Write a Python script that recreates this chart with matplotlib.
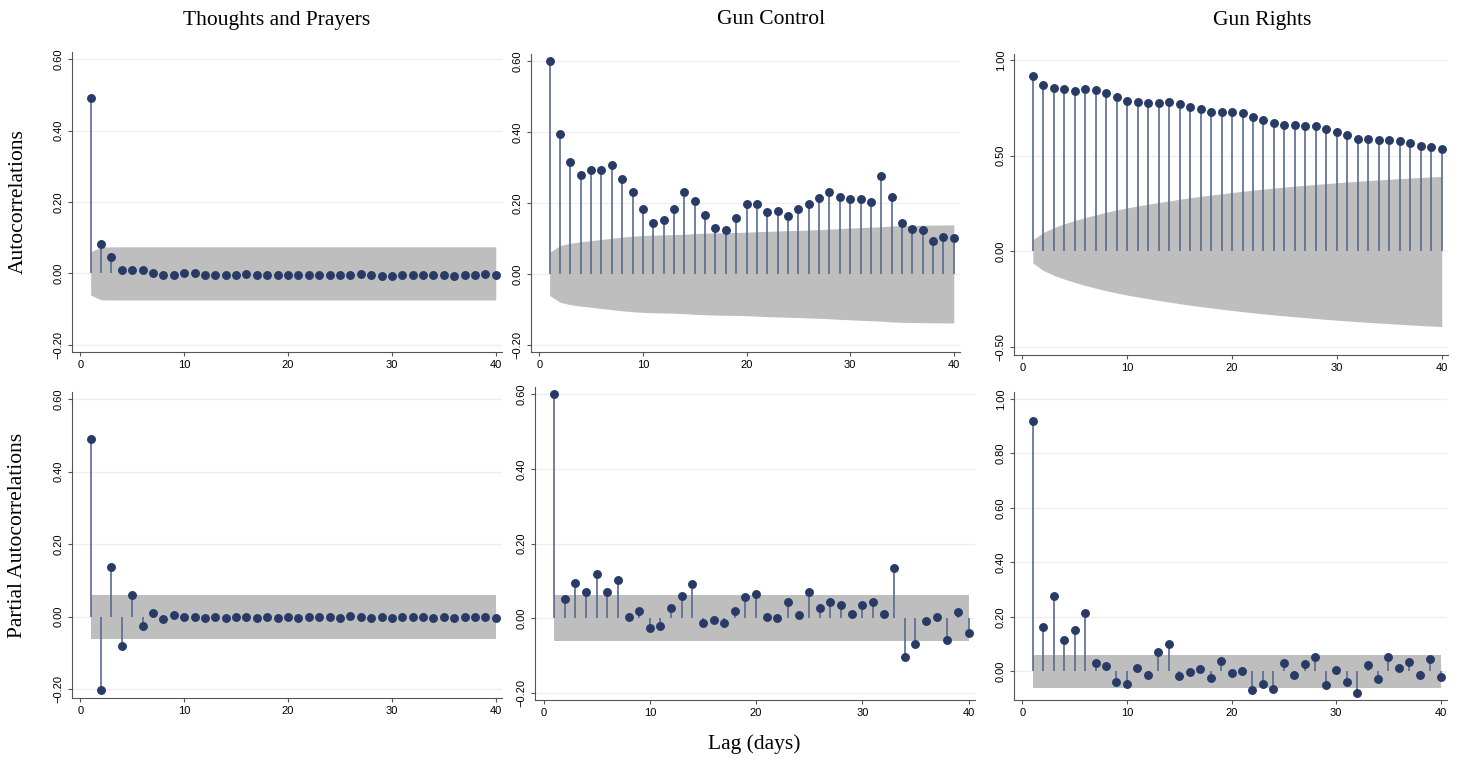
import numpy as np
import matplotlib
matplotlib.use("Agg")
import matplotlib.pyplot as plt
from matplotlib.ticker import FuncFormatter

# ---- values (lags 1..40) ----
LAGS = list(range(1, 41))

acf_thoughts = [0.491, 0.083, 0.047, 0.011, 0.009, 0.011, 0.002, -0.003, -0.003, 0.000,
                0.000, -0.004, -0.004, -0.005, -0.005, -0.002, -0.004, -0.005, -0.005, -0.005,
                -0.005, -0.005, -0.005, -0.005, -0.005, -0.003, -0.001, -0.005, -0.006, -0.006,
                -0.005, -0.005, -0.005, -0.005, -0.004, -0.006, -0.005, -0.003, -0.002, -0.005]
acf_control = [0.601, 0.394, 0.316, 0.280, 0.294, 0.293, 0.308, 0.268, 0.231, 0.184,
               0.144, 0.151, 0.182, 0.232, 0.205, 0.166, 0.130, 0.124, 0.159, 0.198,
               0.196, 0.174, 0.178, 0.163, 0.184, 0.196, 0.215, 0.231, 0.217, 0.212,
               0.211, 0.203, 0.275, 0.216, 0.144, 0.127, 0.124, 0.094, 0.104, 0.100]
acf_rights = [0.916, 0.866, 0.855, 0.845, 0.838, 0.850, 0.843, 0.826, 0.807, 0.786,
              0.779, 0.773, 0.773, 0.780, 0.768, 0.751, 0.742, 0.730, 0.728, 0.728,
              0.721, 0.704, 0.686, 0.669, 0.662, 0.658, 0.655, 0.657, 0.639, 0.622,
              0.610, 0.589, 0.585, 0.584, 0.584, 0.575, 0.564, 0.549, 0.545, 0.537]

pacf_thoughts = [0.489, -0.204, 0.136, -0.082, 0.060, -0.025, 0.011, -0.007, 0.005, 0.000,
                 -0.002, -0.004, 0.000, -0.004, 0.000, 0.000, -0.004, 0.000, -0.004, -0.002,
                 -0.003, -0.002, -0.002, -0.002, -0.004, 0.002, -0.001, -0.005, -0.002, -0.003,
                 0.000, -0.002, -0.002, -0.003, 0.000, -0.005, 0.000, -0.001, 0.000, -0.005]
pacf_control = [0.601, 0.051, 0.095, 0.070, 0.118, 0.071, 0.102, 0.002, 0.018, -0.027,
                -0.021, 0.027, 0.059, 0.092, -0.013, -0.006, -0.014, 0.020, 0.056, 0.064,
                0.002, 0.000, 0.043, 0.007, 0.069, 0.028, 0.043, 0.034, 0.010, 0.035,
                0.043, 0.010, 0.134, -0.104, -0.071, -0.007, 0.002, -0.058, 0.017, -0.040]
pacf_rights = [0.917, 0.162, 0.275, 0.114, 0.151, 0.216, 0.032, 0.020, -0.039, -0.045,
               0.011, -0.015, 0.072, 0.102, -0.017, -0.001, 0.009, -0.025, 0.038, -0.006,
               0.002, -0.070, -0.045, -0.064, 0.031, -0.012, 0.026, 0.051, -0.051, 0.005,
               -0.040, -0.081, 0.023, -0.027, 0.054, 0.012, 0.034, -0.013, 0.047, -0.021]

TITLES = ["Thoughts and Prayers", "Gun Control", "Gun Rights"]
N_OBS = 1040  # sample size implied by the 95% band width (1.96/sqrt(n) ~ 0.061)

MARKER_COLOR = "#283b66"
STEM_COLOR = "#5a6b8e"
BAND_COLOR = "#bebebe"
GRID_COLOR = "#eeeeee"
AXIS_COLOR = "#555555"

FIG_W, FIG_H = 1458, 759


def px_axes(fig, left, right, top, bottom):
    """add an axes given pixel edges (top-left origin)"""
    return fig.add_axes([left / FIG_W, 1 - bottom / FIG_H,
                         (right - left) / FIG_W, (bottom - top) / FIG_H])


def bartlett_band(r):
    # Stata's corrgram band for the ACF: se_k = sqrt((1 + 2*sum_{i<k} r_i^2)/n)
    r = np.asarray(r)
    cum = np.concatenate([[0.0], np.cumsum(r[:-1] ** 2)])
    return 1.96 * np.sqrt((1 + 2 * cum) / N_OBS)


def fmt_y(v, pos):
    s = f"{v:.2f}"
    if s == "-0.00":
        s = "0.00"
    return s.replace("-", "\u2212")


def draw_panel(ax, values, band, yticks, ylim):
    ax.fill_between(LAGS, -band, band, color=BAND_COLOR, lw=0, zorder=1)
    ax.vlines(LAGS, 0, values, color=STEM_COLOR, lw=1.2, zorder=2)
    ax.plot(LAGS, values, "o", color=MARKER_COLOR, ms=5.4, mec=MARKER_COLOR, zorder=3)

    ax.set_xlim(-0.8, 40.6)
    ax.set_ylim(*ylim)
    ax.set_xticks([0, 10, 20, 30, 40])
    ax.set_yticks(yticks)
    ax.yaxis.set_major_formatter(FuncFormatter(fmt_y))
    for t in ax.get_yticklabels():
        t.set_rotation(90)
        t.set_va("center")
    ax.grid(axis="y", color=GRID_COLOR, lw=0.9, zorder=0)
    ax.set_axisbelow(True)
    for side in ("top", "right"):
        ax.spines[side].set_visible(False)
    for side in ("left", "bottom"):
        ax.spines[side].set_color(AXIS_COLOR)
        ax.spines[side].set_linewidth(0.8)
    ax.tick_params(labelsize=8, length=3, width=0.8, color=AXIS_COLOR, pad=3)


def main():
    plt.rcParams["font.family"] = ["Liberation Sans", "DejaVu Sans"]
    fig = plt.figure(figsize=(FIG_W / 100, FIG_H / 100), dpi=100)

    acfs = [acf_thoughts, acf_control, acf_rights]
    pacfs = [pacf_thoughts, pacf_control, pacf_rights]

    # pixel boxes measured on the reference: (left, right, top, bottom)
    top_boxes = [(72, 502, 52, 352), (531, 960, 54, 352), (1014, 1448, 54, 355)]
    bot_boxes = [(72, 502, 392, 698), (535, 975, 387, 700), (1014, 1447, 392, 700)]
    top_ylims = [(-0.22, 0.62), (-0.22, 0.62), (-0.54, 1.03)]
    bot_ylims = [(-0.225, 0.62), (-0.22, 0.62), (-0.105, 1.025)]
    top_ticks = [[-0.2, 0, 0.2, 0.4, 0.6], [-0.2, 0, 0.2, 0.4, 0.6], [-0.5, 0, 0.5, 1.0]]
    bot_ticks = [[-0.2, 0, 0.2, 0.4, 0.6], [-0.2, 0, 0.2, 0.4, 0.6],
                 [0, 0.2, 0.4, 0.6, 0.8, 1.0]]

    pacf_band = np.full(len(LAGS), 1.96 / np.sqrt(N_OBS))

    for i in range(3):
        ax = px_axes(fig, *top_boxes[i])
        draw_panel(ax, acfs[i], bartlett_band(acfs[i]), top_ticks[i], top_ylims[i])
        ax = px_axes(fig, *bot_boxes[i])
        draw_panel(ax, pacfs[i], pacf_band, bot_ticks[i], bot_ylims[i])

    serif = ["Liberation Serif", "DejaVu Serif"]
    title_x = [277, 771, 1262]
    for x, t in zip(title_x, TITLES):
        fig.text(x / FIG_W, 1 - 20 / FIG_H, t, ha="center", va="center",
                 fontsize=15.5, family=serif)
    fig.text(18 / FIG_W, 1 - 202 / FIG_H, "Autocorrelations", rotation=90,
             ha="center", va="center", fontsize=15.5, family=serif)
    fig.text(18 / FIG_W, 1 - 535 / FIG_H, "Partial Autocorrelations", rotation=90,
             ha="center", va="center", fontsize=15.5, family=serif)
    fig.text(754 / FIG_W, 1 - 744 / FIG_H, "Lag (days)", ha="center", va="center",
             fontsize=15.5, family=serif)

    fig.savefig("out.png", dpi=100, facecolor="white")
    plt.close(fig)


if __name__ == "__main__":
    main()
